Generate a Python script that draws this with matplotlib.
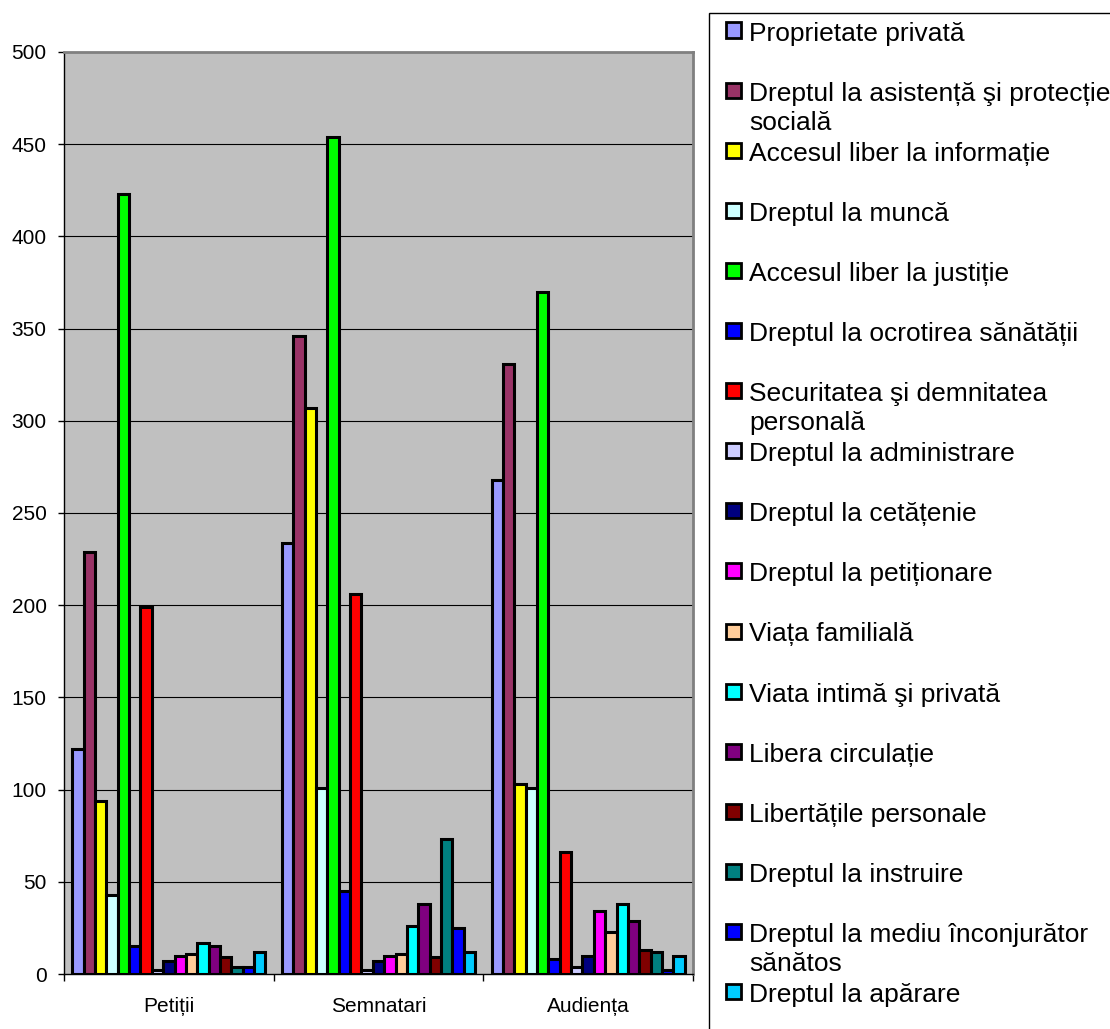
import matplotlib
matplotlib.use("Agg")
import numpy as np
import matplotlib.pyplot as plt
from matplotlib.patches import Rectangle

plt.rcParams['font.family'] = ['Liberation Sans', 'DejaVu Sans']

categories = ["Petiții", "Semnatari", "Audiența"]

series_names = [
    "Proprietate privată",
    "Dreptul la asistență şi protecție\nsocială",
    "Accesul liber la informație",
    "Dreptul la muncă",
    "Accesul liber la justiție",
    "Dreptul la ocrotirea sănătății",
    "Securitatea şi demnitatea\npersonală",
    "Dreptul la administrare",
    "Dreptul la cetățenie",
    "Dreptul la petiționare",
    "Viața familială",
    "Viata intimă şi privată",
    "Libera circulație",
    "Libertățile personale",
    "Dreptul la instruire",
    "Dreptul la mediu înconjurător\nsănătos",
    "Dreptul la apărare",
]

series_colors = [
    "#9999FF", "#993366", "#FFFF00", "#CCFFFF", "#00FF00", "#0000FF",
    "#FF0000", "#CCCCFF", "#000080", "#FF00FF", "#FFCC99", "#00FFFF",
    "#800080", "#800000", "#008080", "#0000FF", "#00CCFF",
]

# one value per series, in the order of series_names
petitii = [122, 229, 94, 43, 423, 15, 199, 2, 7, 10, 11, 17, 15, 9, 4, 4, 12]
semnatari = [234, 346, 307, 101, 454, 45, 206, 2, 7, 10, 11, 26, 38, 9, 73, 25, 12]
audienta = [268, 331, 103, 101, 370, 8, 66, 4, 10, 34, 23, 38, 29, 13, 12, 2, 10]

W, H = 1110, 1029


def fx(px):
    return px / W


def fy(py):
    return 1 - py / H


fig = plt.figure(figsize=(W / 100, H / 100), dpi=100)
ax = fig.add_axes([fx(64), fy(974), (693 - 64) / W, (974 - 52) / H])
ax.set_facecolor("#C0C0C0")

values = np.array([petitii, semnatari, audienta]).T
n = len(series_names)
x = np.arange(len(categories))
w = 0.0541
for i in range(n):
    ax.bar(x + (i - (n - 1) / 2) * w, values[i], w,
           color=series_colors[i], edgecolor="black", linewidth=2.2, zorder=3)

ax.set_xlim(-0.5, 2.5)
ax.set_ylim(0, 500)
ax.set_yticks(range(0, 501, 50))
ax.yaxis.grid(True, color="black", linewidth=0.8)
ax.get_ygridlines()[-1].set_visible(False)
ax.get_ygridlines()[0].set_visible(False)
ax.set_axisbelow(True)

ax.set_xticks([-0.5, 0.5, 1.5, 2.5])
ax.set_xticklabels([])
ax.set_xticks(x, minor=True)
ax.set_xticklabels(categories, minor=True)
ax.tick_params(axis="x", which="major", length=5, width=1, color="black")
ax.tick_params(axis="x", which="minor", length=0, pad=16.5, labelsize=15)
ax.tick_params(axis="y", length=4, width=1, pad=8.5, labelsize=15)

for side in ("left", "bottom"):
    ax.spines[side].set_color("black")
    ax.spines[side].set_linewidth(1)
for side in ("top", "right"):
    ax.spines[side].set_color("#808080")
    ax.spines[side].set_linewidth(2)

# legend box, cut by the right and bottom edges like the original
fig.add_artist(Rectangle((fx(709), fy(1040)), fx(1120) - fx(709), fy(13) - fy(1040),
                         transform=fig.transFigure, facecolor="white",
                         edgecolor="black", linewidth=1, zorder=0))
for i, (name, color) in enumerate(zip(series_names, series_colors)):
    cy = 30 + 60.1 * i
    fig.add_artist(Rectangle((fx(726), fy(cy + 7.5)), 15 / W, 15 / H,
                             transform=fig.transFigure, facecolor=color,
                             edgecolor="black", linewidth=2, zorder=2))
    for k, line in enumerate(name.split("\n")):
        fig.text(fx(749), fy(cy + 10.5 + 29 * k), line, fontsize=19,
                 va="baseline", ha="left")

fig.savefig("out.png", dpi=100)
